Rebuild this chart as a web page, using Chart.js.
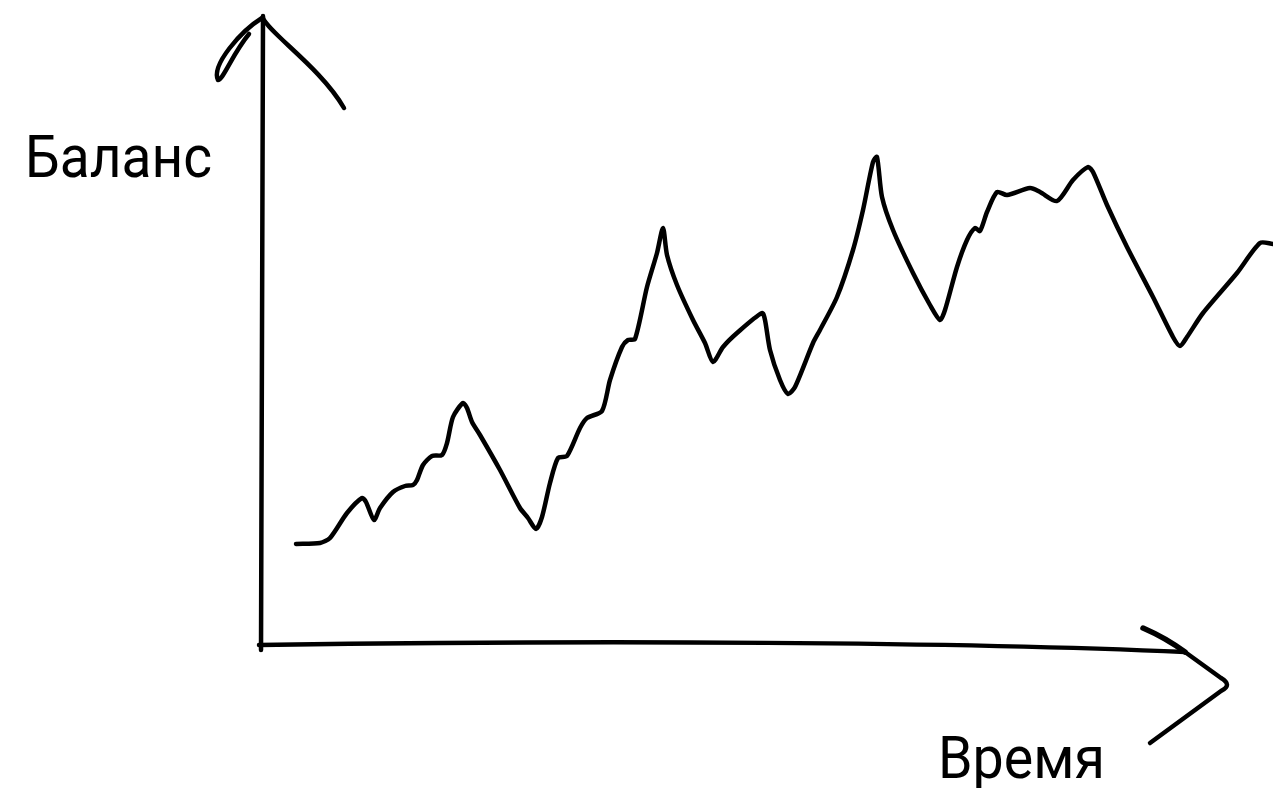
<!DOCTYPE html>
<html>
<head>
<meta charset="utf-8">
<script src="https://cdn.jsdelivr.net/npm/chart.js@4.4.1/dist/chart.umd.min.js"></script>
<style>
  html, body { margin: 0; padding: 0; background: #fff; }
  #wrap { width: 1273px; height: 788px; position: relative; }
</style>
</head>
<body>
<div id="wrap"><canvas id="balanceChart"></canvas></div>
<script>
// hand-drawn sketch: balance over time, no units on the axes
const time = [3.5, 5.9, 6.9, 8.6, 10.1, 10.5, 11.3, 11.9, 13.2, 14.4, 15.2, 15.6, 16.2, 17.1, 18.1, 18.6,
    19.2, 20.2, 20.6, 21.1, 21.9, 23.9, 25.9, 26.7, 27.5, 28.1, 28.9, 29.7, 30.6, 31.9, 32.6, 34.1,
    34.9, 36.1, 36.7, 37.4, 38.6, 39.6, 40.2, 40.6, 41.6, 43.2, 44.4, 45.2, 46.2, 47.6, 50.1, 50.4,
    50.9, 51.9, 52.7, 53.4, 55.2, 55.9, 57.6, 59.2, 60.2, 61.2, 61.6, 62.1, 63.2, 65.2, 66.9, 67.9,
    68.4, 69.6, 70.6, 71.4, 71.9, 72.6, 73.6, 74.6, 76.9, 77.9, 79.6, 81.2, 82.7, 83.2, 84.6, 86.6,
    89.2, 91.2, 91.9, 92.6, 94.2, 97.6, 99.9, 101.2];
const balance = [19.8, 20.0, 21.0, 26.0, 29.0, 28.2, 24.6, 27.0, 30.2, 31.4, 31.6, 32.6, 35.6, 37.4, 37.6, 40.0,
    45.2, 48.0, 47.0, 44.2, 41.6, 34.6, 27.0, 25.0, 22.8, 25.2, 32.0, 37.0, 37.4, 43.0, 45.0, 46.4,
    52.6, 59.2, 60.6, 60.8, 71.2, 78.0, 83.0, 77.6, 71.6, 64.6, 60.0, 56.2, 59.2, 62.0, 66.0, 64.6,
    58.6, 52.6, 49.8, 51.2, 60.0, 62.6, 69.2, 78.6, 86.6, 96.2, 97.2, 89.2, 82.6, 74.0, 67.6, 64.6,
    66.6, 75.2, 80.6, 83.0, 82.4, 86.2, 90.2, 89.6, 91.0, 90.2, 88.4, 92.6, 95.2, 94.2, 87.6, 79.2,
    69.2, 61.2, 59.4, 61.2, 66.0, 74.0, 80.0, 79.8];

const yLabel = 'Баланс';
const xLabel = 'Время';

// draws the sketchy axes with arrows and the two labels
const sketchAxes = {
    id: 'sketchAxes',
    afterDraw(chart) {
        const ctx = chart.ctx;
        const ox = chart.scales.x.getPixelForValue(0);
        const oy = chart.scales.y.getPixelForValue(0);
        ctx.save();
        ctx.strokeStyle = '#000';
        ctx.lineWidth = 4.5;
        ctx.lineCap = 'round';
        ctx.lineJoin = 'round';

        // y axis
        ctx.beginPath();
        ctx.moveTo(ox, oy + 7);
        ctx.quadraticCurveTo(ox, oy - 320, ox + 2, oy - 627);
        ctx.stroke();
        // y arrow, left stroke with its little loop
        ctx.beginPath();
        ctx.moveTo(ox + 1, oy - 625);
        ctx.bezierCurveTo(ox - 20, oy - 612, ox - 50, oy - 578, ox - 43, oy - 563);
        ctx.bezierCurveTo(ox - 38, oy - 563, ox - 28, oy - 590, ox - 12, oy - 609);
        ctx.stroke();
        // y arrow, right stroke
        ctx.beginPath();
        ctx.moveTo(ox + 2, oy - 625);
        ctx.bezierCurveTo(ox + 8, oy - 610, ox + 60, oy - 575, ox + 83, oy - 535);
        ctx.stroke();

        // x axis
        ctx.beginPath();
        ctx.moveTo(ox - 2, oy + 2);
        ctx.bezierCurveTo(ox + 340, oy - 3, ox + 700, oy - 1, ox + 924, oy + 9);
        ctx.lineTo(ox + 960, oy + 35);
        ctx.quadraticCurveTo(ox + 972, oy + 42, ox + 960, oy + 48);
        ctx.lineTo(ox + 889, oy + 100);
        ctx.stroke();
        // x arrow, upper stroke
        ctx.beginPath();
        ctx.lineWidth = 5.5;
        ctx.moveTo(ox + 882, oy - 15);
        ctx.quadraticCurveTo(ox + 905, oy - 5, ox + 924, oy + 9);
        ctx.stroke();

        // labels, squeezed to the width of the hand lettering
        ctx.fillStyle = '#000';
        ctx.textBaseline = 'alphabetic';
        ctx.font = '59px Roboto';
        const drawLabel = (txt, x, y, w) => {
            const m = ctx.measureText(txt).width;
            ctx.save();
            ctx.translate(x, y);
            ctx.scale(w / m, 1);
            ctx.fillText(txt, 0, 0);
            ctx.restore();
        };
        drawLabel(yLabel, ox - 236, oy - 466, 187);
        drawLabel(xLabel, ox + 677, oy + 135, 167);
        ctx.restore();
    }
};

document.addEventListener('DOMContentLoaded', function() {
    const ctx = document.getElementById('balanceChart').getContext('2d');

    new Chart(ctx, {
        type: 'line',
        data: {
            datasets: [{
                label: yLabel,
                data: time.map((t, i) => ({ x: t, y: balance[i] })),
                borderColor: '#000',
                borderWidth: 4.5,
                borderCapStyle: 'round',
                borderJoinStyle: 'round',
                pointRadius: 0,
                tension: 0.25,
                fill: false,
                clip: false
            }]
        },
        options: {
            responsive: true,
            maintainAspectRatio: false,
            animation: false,
            layout: { padding: { left: 261, right: 0, top: 15, bottom: 145 } },
            scales: {
                x: { type: 'linear', min: 0, max: 101.2, display: false },
                y: { min: 0, max: 125.6, display: false }
            },
            plugins: {
                legend: { display: false },
                tooltip: { enabled: false }
            }
        },
        plugins: [sketchAxes]
    });
});
</script>
</body>
</html>
